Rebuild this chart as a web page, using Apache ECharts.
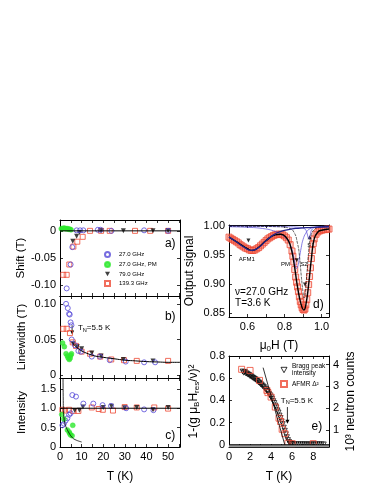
<!DOCTYPE html>
<html>
<head>
<meta charset="utf-8">
<script src="https://cdn.jsdelivr.net/npm/echarts@6/dist/echarts.min.js"></script>
<style>
  html, body { margin: 0; padding: 0; background: #fff; }
  #chart { width: 374px; height: 484px; }
</style>
</head>
<body>
<div id="chart"></div>
<script>
// ---- panels a-c : [T (K), value] ----
const shift27 = [[3.1,-0.106],[4.9,-0.062],[5.7,-0.030],[7.7,0.001],[9.3,0.001],[10.8,0.001],[17.5,0.002],[18.8,0.002],[23.8,0.0],[38.9,0.001],[50,0.0]];
const shiftPM = [[0.6,0.004],[1.1,0.004],[1.6,0.005],[2.1,0.005],[2.6,0.004],[3.1,0.004],[3.6,0.004],[4.1,0.003],[4.6,0.003],[5.1,0.002]];
const shift79 = [[5.9,-0.019],[7.7,-0.010],[9.0,-0.003],[19,0.0],[29.3,0.0],[43,0.0],[50,0.0]];
const shift139 = [[1.5,-0.081],[3.1,-0.081],[4.3,-0.062],[6.2,-0.029],[8.0,-0.020],[10.5,-0.011],[13.9,0.0],[19,0.0],[23,0.0],[34.7,0.0],[41.7,0.0],[50,0.0]];
const shiftFit = [[0,0],[55.5,0]];

const width27 = [[2.8,0.100],[3.6,0.094],[4.2,0.086],[4.5,0.085],[4.9,0.074],[5.3,0.070],[5.4,0.050],[6.9,0.042],[8.5,0.034],[9.7,0.033],[14.7,0.026],[18.5,0.026],[23,0.021],[30.4,0.019],[38.9,0.018],[44,0.018]];
const widthPM = [[1.2,0.045],[2.0,0.040],[2.8,0.030],[3.4,0.027],[3.8,0.024],[4.3,0.022],[4.7,0.024],[5.0,0.028],[5.3,0.030]];
const width79 = [[6.0,0.044],[8.0,0.040],[10,0.037],[14.7,0.031],[19,0.027],[29.3,0.022],[43,0.020]];
const width139 = [[1.5,0.065],[3.1,0.065],[4.6,0.059],[5.9,0.046],[7.4,0.041],[10,0.033],[13.9,0.030],[18.6,0.026],[23.7,0.022],[29.6,0.021],[35.5,0.020],[50,0.020]];
const widthFit = [[5.8,0.046],[7,0.041],[8.5,0.037],[10,0.034],[13,0.030],[16,0.027],[20,0.025],[25,0.023],[30,0.021],[35,0.020],[40,0.019],[45,0.0185],[50,0.018],[55.5,0.018]];

const int27 = [[1.1,0.56],[1.8,0.60],[2.6,0.68],[3.4,0.74],[4.2,0.83],[4.9,0.87],[5.7,1.34],[7.4,1.30],[10.8,1.12],[15.4,1.12],[19.7,1.08],[23.6,1.06],[30.6,1.00],[38.9,0.97],[43.2,0.95]];
const intPM = [[0.8,0.84],[1.8,0.72],[3.4,0.44],[4.2,0.39],[4.5,0.35],[4.9,0.31],[5.6,0.29],[5.9,0.56]];
const int79 = [[6.8,0.94],[9.0,0.95],[10.6,1.03],[20,1.02],[23.8,1.05],[29.9,1.01],[35.5,1.02],[43,0.96],[50,1.02]];
const int139 = [[1.1,0.96],[2.3,0.94],[4.2,0.96],[6.2,0.93],[8.5,0.93],[14.7,1.02],[17.9,0.98],[19.8,0.96],[24.5,0.94],[29.9,1.03],[35.5,1.02],[43.6,1.02],[50,0.99]];
const intLevel = [[0,1],[55.5,1]];
const intCurve = [[1.4,1.78],[1.5,1.2],[1.6,0.95],[1.9,0.72],[2.5,0.56],[3.0,0.49],[3.8,0.40],[5.4,0.26],[7.0,0.19],[10,0.13]];

// ---- panel d : [mu0H (T), output signal] ----
const dData = [[0.500,0.981],[0.510,0.979],[0.520,0.977],[0.530,0.975],[0.540,0.973],[0.550,0.971],[0.560,0.968],[0.570,0.966],[0.580,0.964],[0.590,0.962],[0.600,0.961],[0.610,0.959],[0.620,0.958],[0.630,0.958],[0.640,0.959],[0.650,0.961],[0.660,0.963],[0.670,0.966],[0.680,0.969],[0.690,0.972],[0.700,0.975],[0.710,0.978],[0.720,0.980],[0.730,0.982],[0.740,0.984],[0.750,0.985],[0.760,0.986],[0.770,0.986],[0.780,0.986],[0.790,0.985],[0.800,0.983],[0.810,0.980],[0.820,0.976],[0.830,0.968],[0.840,0.957],[0.845,0.948],[0.850,0.938],[0.855,0.925],[0.860,0.912],[0.865,0.903],[0.870,0.895],[0.875,0.887],[0.880,0.878],[0.885,0.870],[0.890,0.864],[0.895,0.859],[0.900,0.856],[0.905,0.855],[0.910,0.857],[0.915,0.864],[0.920,0.873],[0.925,0.885],[0.930,0.899],[0.935,0.913],[0.940,0.928],[0.945,0.944],[0.950,0.958],[0.955,0.970],[0.960,0.978],[0.970,0.986],[0.980,0.990],[0.990,0.992],[1.000,0.993],[1.010,0.994],[1.020,0.994],[1.030,0.995],[1.040,0.995]];
const dFit = [[0.50,0.981],[0.55,0.971],[0.60,0.961],[0.625,0.958],[0.65,0.961],[0.70,0.975],[0.75,0.985],[0.78,0.986],[0.81,0.980],[0.83,0.968],[0.85,0.938],[0.87,0.895],[0.89,0.864],[0.905,0.855],[0.915,0.864],[0.93,0.899],[0.945,0.944],[0.96,0.978],[0.98,0.990],[1.00,0.993],[1.04,0.995]];
const dAFM1 = [[0.50,0.981],[0.54,0.973],[0.58,0.964],[0.62,0.958],[0.66,0.963],[0.70,0.975],[0.74,0.985],[0.78,0.991],[0.82,0.994],[0.86,0.996],[0.90,0.997],[0.95,0.998],[1.04,0.999]];
const dPM = [[0.50,0.999],[0.60,0.998],[0.68,0.996],[0.74,0.992],[0.78,0.986],[0.81,0.978],[0.83,0.968],[0.845,0.953],[0.855,0.938],[0.863,0.927],[0.870,0.929],[0.880,0.945],[0.890,0.963],[0.900,0.977],[0.915,0.988],[0.935,0.995],[0.97,0.998],[1.04,0.999]];
const dS1 = [[0.50,1.0],[0.80,0.999],[0.88,0.998],[0.91,0.995],[0.92,0.989],[0.928,0.980],[0.933,0.978],[0.94,0.987],[0.95,0.995],[0.98,0.999],[1.04,1.0]];
const dS2 = [[0.50,1.0],[0.78,0.999],[0.82,0.997],[0.85,0.990],[0.87,0.970],[0.88,0.950],[0.89,0.915],[0.90,0.885],[0.905,0.876],[0.91,0.880],[0.92,0.915],[0.93,0.955],[0.94,0.980],[0.96,0.994],[1.00,0.999],[1.04,1.0]];
const dMarkDown = [[0.605,0.975],[0.866,0.941],[0.910,0.899]];
const dMarkUp = [[0.935,0.981]];

// ---- panel e : [T (K), 1-(g muB Hres/nu)^2] ----
const bragg = [[1.3,0.660],[1.4,0.650],[1.5,0.656],[1.6,0.644],[1.7,0.641],[1.8,0.633],[1.9,0.630],[2.0,0.620],[2.1,0.617],[2.2,0.608],[2.3,0.602],[2.4,0.595],[2.5,0.590],[2.6,0.580],[2.7,0.574],[2.8,0.563],[2.9,0.558],[3.0,0.546],[3.1,0.541],[3.2,0.528],[3.3,0.522],[3.4,0.508],[3.5,0.500],[3.6,0.486],[3.7,0.476],[3.8,0.458],[3.9,0.446],[4.0,0.428],[4.1,0.413],[4.2,0.393],[4.3,0.376],[4.4,0.353],[4.5,0.336],[4.6,0.310],[4.7,0.291],[4.8,0.263],[4.9,0.241],[5.0,0.210],[5.1,0.186],[5.2,0.154],[5.3,0.126],[5.4,0.094],[5.5,0.068],[5.6,0.042],[5.7,0.025],[5.8,0.014],[5.9,0.008],[6.0,0.005],[6.2,0.004],[6.4,0.004],[6.6,0.003],[6.8,0.004],[7.0,0.003],[7.2,0.004],[7.4,0.003],[7.6,0.003],[7.8,0.004],[8.0,0.003],[8.2,0.003],[8.4,0.004],[8.6,0.003],[8.8,0.003],[9.0,0.003]];
const afmr = [[1.2,0.68],[2.0,0.67],[2.9,0.58],[3.6,0.49],[3.7,0.47],[4.0,0.43],[4.4,0.34],[4.75,0.24],[4.9,0.21],[5.05,0.14],[5.3,0.10],[5.6,0.015],[6.0,0.010],[8.0,0.010]];
const eFit = [[3.24,0.695],[5.3,0.0]];
const eZero = [[0,0],[9.5,0]];
const eFloor = [[0,-0.012],[9.5,-0.012]];

// tick / label values
const tTicks = [0,5,10,15,20,25,30,35,40,45,50,55];
const tLabels = [0,10,20,30,40,50];
const shiftLabels = [-0.1,-0.05,0];
const widthLabels = [0,0.05,0.1];
const intLabels = [0,0.5,1,1.5];
const hTicks = [0.5,0.6,0.7,0.8,0.9,1.0];
const hLabels = [0.6,0.8,1.0];
const sigLabels = [0.85,0.9,0.95,1.0];
const eTicks = [0,1,2,3,4,5,6,7,8,9];
const eLabels = [0,2,4,6,8];
const eYLabels = [0,0.2,0.4,0.6,0.8];
const countLabels = [1,2,3,4];

const FONT = 'Liberation Sans';
const BLUE = '#5548d8', GREEN = '#2ee82e', RED = '#ee4a35';
const DOWN = 'path://M0,0L10,0L5,9Z';
const sub = { s: { fontSize: 8, fontFamily: FONT, padding: [7, 0, 0, 0] } };

function axis(type, grid, min, max, ticks, labels, fmt, extra) {
  return Object.assign({
    type: 'value', gridIndex: grid, min: min, max: max,
    axisLine: { show: true, onZero: false, lineStyle: { color: '#000', width: 1 } },
    axisTick: { show: true, inside: true, length: 3, customValues: ticks, lineStyle: { color: '#000', width: 0.8 } },
    axisLabel: { show: !!labels, customValues: labels || [], formatter: fmt, color: '#000', fontSize: 11, fontFamily: FONT, margin: 4 },
    splitLine: { show: false }
  }, extra || {});
}
const fmt2 = v => v === 0 ? '0' : v.toFixed(2);
const fmt1 = v => v === 0 ? '0' : v.toFixed(1);
const fmt0 = v => String(v);
const yName = (name, gap, size) => ({ name: name, nameLocation: 'middle', nameGap: gap, nameRotate: 90,
  nameTextStyle: { fontSize: size, color: '#000', fontFamily: FONT, rich: sub } });
const xName = (name, gap) => ({ name: name, nameLocation: 'middle', nameGap: gap,
  nameTextStyle: { fontSize: 12, color: '#000', fontFamily: FONT, rich: sub } });

const xAxes = [
  axis('x', 0, 0, 55.5, tTicks, null, null),
  axis('x', 1, 0, 55.5, tTicks, null, null),
  axis('x', 2, 0, 55.5, tTicks, tLabels, fmt0, xName('T (K)', 24)),
  axis('x', 3, 0.5, 1.04, hTicks, hLabels, v => v.toFixed(1), xName('μ{s|0}H (T)', 21)),
  axis('x', 4, 0, 9.5, eTicks, eLabels, fmt0, xName('T (K)', 24)),
  axis('x', 0, 0, 55.5, tTicks, null, null, { position: 'top' }),
  axis('x', 1, 0, 55.5, tTicks, null, null, { position: 'top' }),
  axis('x', 2, 0, 55.5, tTicks, null, null, { position: 'top' }),
  axis('x', 3, 0.5, 1.04, hTicks, null, null, { position: 'top' }),
  axis('x', 4, 0, 9.5, eTicks, null, null, { position: 'top' })
];
const yAxes = [
  axis('y', 0, -0.12, 0.02, shiftLabels, shiftLabels, fmt2, yName('Shift (T)', 32, 11.5)),
  axis('y', 1, -0.004, 0.111, widthLabels, widthLabels, fmt2, yName('Linewidth (T)', 32, 11.5)),
  axis('y', 2, 0, 1.78, intLabels, intLabels, fmt1, yName('Intensity', 32, 11.5)),
  axis('y', 3, 0.843, 1.002, sigLabels, sigLabels, fmt2, yName('Output signal', 33, 12)),
  axis('y', 4, -0.02, 0.8, eYLabels, eYLabels, fmt1, yName('1-(g μ{s|B}H{s|res}/ν)²', 28, 12)),
  axis('y', 0, -0.12, 0.02, shiftLabels, null, null, { position: 'right' }),
  axis('y', 1, -0.004, 0.111, widthLabels, null, null, { position: 'right' }),
  axis('y', 2, 0, 1.78, intLabels, null, null, { position: 'right' }),
  axis('y', 3, 0.843, 1.002, sigLabels, null, null, { position: 'right' }),
  axis('y', 4, 0.22, 4.39, countLabels, countLabels, fmt0, Object.assign({ position: 'right' }, yName('10³ neutron counts', 16, 12)))
];

const mk = {
  c27: { symbol: 'circle', symbolSize: 5, itemStyle: { color: 'rgba(255,255,255,0)', borderColor: BLUE, borderWidth: 1 } },
  pm: { symbol: 'circle', symbolSize: 5, itemStyle: { color: GREEN, borderColor: GREEN, borderWidth: 0.5 } },
  c79: { symbol: 'triangle', symbolSize: 5, symbolRotate: 180, itemStyle: { color: '#111' } },
  c139: { symbol: 'rect', symbolSize: 5, itemStyle: { color: 'rgba(255,255,255,0)', borderColor: RED, borderWidth: 1 } }
};
function scat(name, data, i, style, extra) {
  return Object.assign({ type: 'scatter', name: name, data: data, xAxisIndex: i, yAxisIndex: i, silent: true }, style, extra || {});
}
function line(data, i, color, width, extra) {
  return Object.assign({ type: 'line', data: data, xAxisIndex: i, yAxisIndex: i, symbol: 'none', silent: true,
    lineStyle: { color: color, width: width } }, extra || {});
}

const series = [
  line(shiftFit, 0, '#000', 1),
  scat('139.3 GHz', shift139, 0, mk.c139), scat('79.0 GHz', shift79, 0, mk.c79),
  scat('27.0 GHz', shift27, 0, mk.c27), scat('27.0 GHz, PM', shiftPM, 0, mk.pm),
  line(widthFit, 1, '#000', 1, { smooth: true }),
  scat('139.3 GHz', width139, 1, mk.c139), scat('79.0 GHz', width79, 1, mk.c79),
  scat('27.0 GHz', width27, 1, mk.c27), scat('27.0 GHz, PM', widthPM, 1, mk.pm),
  line(intLevel, 2, '#000', 1), line(intCurve, 2, '#000', 0.8, { smooth: true }),
  scat('139.3 GHz', int139, 2, mk.c139), scat('79.0 GHz', int79, 2, mk.c79),
  scat('27.0 GHz', int27, 2, mk.c27), scat('27.0 GHz, PM', intPM, 2, mk.pm),
  scat('d data', dData, 3, { symbol: 'rect', symbolSize: 6, itemStyle: { color: 'rgba(255,120,100,0.35)', borderColor: RED, borderWidth: 1 } }),
  line(dPM, 3, BLUE, 0.7, { smooth: true }), line(dS1, 3, BLUE, 0.7, { smooth: true }),
  line(dS2, 3, '#000', 0.6, { smooth: true, lineStyle: { color: '#000', width: 0.6, type: [3, 1] } }),
  line(dFit, 3, '#000', 1.4, { smooth: true }), line(dAFM1, 3, '#22228a', 1.3, { smooth: true }),
  scat('d marks', dMarkDown, 3, { symbol: 'triangle', symbolSize: 4, symbolRotate: 180, itemStyle: { color: '#000' } }),
  scat('d marks up', dMarkUp, 3, { symbol: 'triangle', symbolSize: 4, itemStyle: { color: '#000' } }),
  line(eFloor, 4, '#999', 2.5), line(eZero, 4, '#000', 1),
  scat('Bragg peak\nintensity', bragg, 4, { symbol: 'triangle', symbolSize: 5, symbolRotate: 180, itemStyle: { color: 'rgba(255,255,255,0)', borderColor: '#000', borderWidth: 0.9 } }),
  scat('AFMR Δ²', afmr, 4, { symbol: 'rect', symbolSize: 6, itemStyle: { color: 'rgba(255,255,255,0)', borderColor: RED, borderWidth: 1 } }),
  line(eFit, 4, '#000', 0.8)
];

const chart = echarts.init(document.getElementById('chart'));
chart.setOption({
  animation: false,
  backgroundColor: '#fff',
  textStyle: { fontFamily: FONT },
  grid: [
    { left: 60, top: 220, width: 120, height: 76 },
    { left: 60, top: 296, width: 120, height: 82 },
    { left: 60, top: 378, width: 120, height: 74 },
    { left: 229, top: 225, width: 100, height: 92 },
    { left: 229, top: 356, width: 100, height: 96 }
  ],
  legend: [
    { data: ['27.0 GHz', '27.0 GHz, PM', { name: '79.0 GHz', icon: DOWN }, '139.3 GHz'], orient: 'vertical', left: 104, top: 251,
      itemWidth: 5, itemHeight: 5, itemGap: 3, selectedMode: false, padding: 0,
      textStyle: { fontSize: 6, color: '#000', fontFamily: FONT, padding: [0, 0, 0, 4] } },
    { data: [{ name: 'Bragg peak\nintensity', icon: DOWN, itemStyle: { color: '#fff', borderColor: '#000', borderWidth: 1 } }, 'AFMR Δ²'],
      orient: 'vertical', left: 280, top: 363,
      itemWidth: 6, itemHeight: 6, itemGap: 3, selectedMode: false, padding: 0,
      textStyle: { fontSize: 6.5, lineHeight: 7, color: '#000', fontFamily: FONT } }
  ],
  xAxis: xAxes,
  yAxis: yAxes,
  series: series
});

// annotations placed in data coordinates
const P = (i, x, y) => chart.convertToPixel({ xAxisIndex: i, yAxisIndex: i }, [x, y]);
function txt(i, x, y, s, size, align) {
  const p = P(i, x, y);
  return { type: 'text', x: p[0], y: p[1], style: { text: s, fontSize: size, fontFamily: FONT, fill: '#000',
    align: align || 'center', verticalAlign: 'middle', rich: { s: { fontSize: size * 0.7, fontFamily: FONT, padding: [size * 0.6, 0, 0, 0] } } } };
}
function arrow(i, x, y0, y1) {
  const a = P(i, x, y0), b = P(i, x, y1);
  return [
    { type: 'line', shape: { x1: a[0], y1: a[1], x2: b[0], y2: b[1] - 3 }, style: { stroke: '#000', lineWidth: 0.8 } },
    { type: 'polygon', shape: { points: [[b[0] - 2, b[1] - 4], [b[0] + 2, b[1] - 4], [b[0], b[1]]] }, style: { fill: '#000' } }
  ];
}
chart.setOption({
  graphic: [
    txt(0, 51, -0.023, 'a)', 12), txt(1, 51, 0.0817, 'b)', 12), txt(2, 51, 0.29, 'c)', 12),
    txt(1, 8.3, 0.066, 'T{s|N}=5.5 K', 8, 'left'),
    ...arrow(1, 5.6, 0.070, 0.057),
    txt(3, 0.533, 0.886, 'ν=27.0 GHz', 10, 'left'), txt(3, 0.533, 0.867, 'T=3.6 K', 10, 'left'),
    txt(3, 0.983, 0.865, 'd)', 12),
    txt(3, 0.596, 0.943, 'AFM1', 6), txt(3, 0.805, 0.934, 'PM', 6), txt(3, 0.905, 0.934, 'S2', 6), txt(3, 0.943, 0.967, 'S1', 6),
    txt(4, 6.45, 0.40, 'T{s|N}=5.5 K', 8),
    ...arrow(4, 5.55, 0.34, 0.19),
    txt(4, 8.35, 0.167, 'e)', 12)
  ]
});
</script>
</body>
</html>
